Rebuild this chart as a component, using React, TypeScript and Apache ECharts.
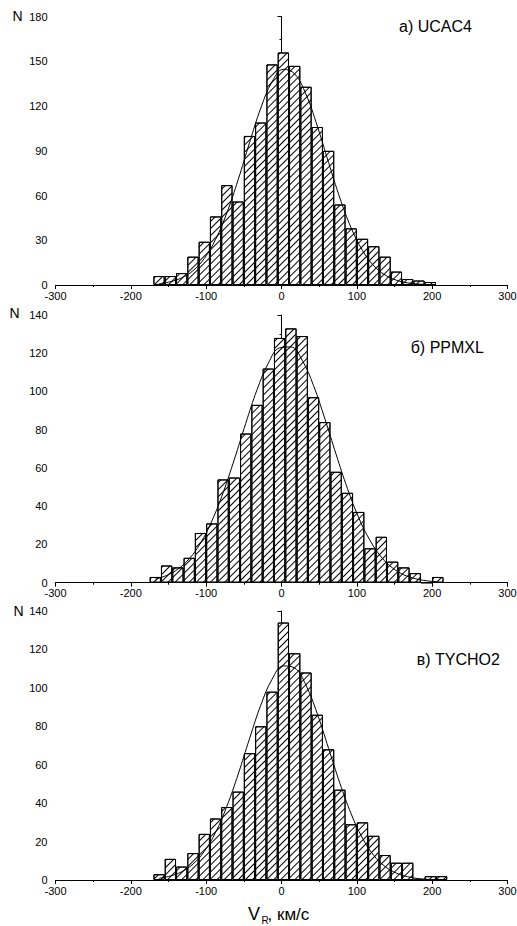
import React, { useEffect, useRef } from "react";
import * as echarts from "echarts";

// Bin centres (km/s), counts and fitted curve values
const ucac4Bins = [-162.5, -147.5, -132.5, -117.5, -102.5, -87.5, -72.5, -57.5, -42.5, -27.5, -12.5, 2.5, 17.5, 32.5, 47.5, 62.5, 77.5, 92.5, 107.5, 122.5, 137.5, 152.5, 167.5, 182.5, 197.5];
const ucac4Counts = [6, 6, 8, 19, 29, 46, 67, 56, 100, 109, 148, 156, 147, 133, 106, 90, 54, 38, 31, 26, 19, 9, 4, 3, 2];
const ucac4Fit = [0.9, 2.2, 4.8, 9.6, 17.8, 30.6, 48.4, 70.7, 95.4, 118.7, 136.4, 144.7, 141.6, 128, 106.7, 82.2, 58.4, 38.3, 23.2, 12.9, 6.7, 3.2, 1.4, 0.6, 0.2];

const ppmxlBins = [-167.5, -152.5, -137.5, -122.5, -107.5, -92.5, -77.5, -62.5, -47.5, -32.5, -17.5, -2.5, 12.5, 27.5, 42.5, 57.5, 72.5, 87.5, 102.5, 117.5, 132.5, 147.5, 162.5, 177.5, 192.5, 207.5];
const ppmxlCounts = [3, 9, 8, 13, 26, 31, 54, 55, 78, 93, 112, 128, 133, 129, 97, 84, 58, 47, 37, 18, 24, 11, 8, 5, 0, 3];
const ppmxlFit = [1.9, 3.8, 7.1, 12.5, 20.7, 32.2, 47.1, 64.6, 83.3, 100.9, 114.8, 122.8, 123.3, 116.3, 103.1, 85.8, 67.1, 49.3, 34.0, 22.1, 13.4, 7.7, 4.1, 2.1, 1.0, 0.4];

const tychoBins = [-162.5, -147.5, -132.5, -117.5, -102.5, -87.5, -72.5, -57.5, -42.5, -27.5, -12.5, 2.5, 17.5, 32.5, 47.5, 62.5, 77.5, 92.5, 107.5, 122.5, 137.5, 152.5, 167.5, 182.5, 197.5, 212.5];
const tychoCounts = [3, 11, 7, 14, 24, 32, 38, 46, 66, 80, 98, 134, 118, 108, 86, 68, 47, 29, 30, 23, 13, 9, 9, 0, 2, 2];
const tychoFit = [0.9, 2.1, 4.3, 8.3, 14.9, 24.8, 38.4, 55.1, 73.5, 91.0, 104.5, 111.4, 110.3, 101.4, 86.5, 68.5, 50.4, 34.4, 21.8, 12.8, 7.0, 3.6, 1.7, 0.7, 0.3, 0.1];

const panelTitles = ["а) UCAC4", "б) PPMXL", "в) TYCHO2"];
const yMax = [180, 140, 140];
const yStep = [30, 20, 20];
const xMin = -300;
const xMax = 300;
const xStep = 100;

const FONT = "'Liberation Sans', Arial, sans-serif";

export default function App() {
  const ref = useRef<HTMLDivElement>(null);
  useEffect(() => {
    if (!ref.current) return;
    const chart = echarts.init(ref.current, undefined, { renderer: "svg" });
    const grids = [
      { left: 55.5, right: 9.5, top: 16.7, height: 268.3, containLabel: false, outerBoundsMode: "none" },
      { left: 55.5, right: 9.5, top: 315, height: 267.7, containLabel: false, outerBoundsMode: "none" },
      { left: 55.5, right: 9.5, top: 611, height: 269, containLabel: false, outerBoundsMode: "none" },
    ];
    const bins = [ucac4Bins, ppmxlBins, tychoBins];
    const counts = [ucac4Counts, ppmxlCounts, tychoCounts];
    const fits = [ucac4Fit, ppmxlFit, tychoFit];

    const xAxes = grids.map((_, i) => ({
      type: "value",
      gridIndex: i,
      min: xMin,
      max: xMax,
      interval: xStep,
      splitLine: { show: false },
      axisLine: { show: true, onZero: false, lineStyle: { color: "#000", width: 1 } },
      axisTick: { show: true, length: 4, lineStyle: { color: "#000" } },
      minorTick: { show: true, splitNumber: 2, length: 2, lineStyle: { color: "#000" } },
      axisLabel: { color: "#000", fontSize: 11, fontFamily: FONT, margin: 5 },
    }));
    const yAxes = grids.map((_, i) => ({
      type: "value",
      gridIndex: i,
      min: 0,
      max: yMax[i],
      interval: yStep[i],
      splitLine: { show: false },
      axisLine: { show: true, lineStyle: { color: "#000", width: 1 } },
      axisTick: { show: true, length: 4, lineStyle: { color: "#000" } },
      minorTick: { show: true, splitNumber: 2, length: 2, lineStyle: { color: "#000" } },
      axisLabel: { color: "#000", fontSize: 11, fontFamily: FONT, margin: 8 },
    }));

    const series: any[] = [];
    for (let i = 0; i < 3; i++) {
      series.push({
        type: "bar",
        xAxisIndex: i,
        yAxisIndex: i,
        barWidth: "100%",
        data: bins[i].map((b, k) => [b, counts[i][k]]),
        itemStyle: {
          color: "#fff",
          borderColor: "#000",
          borderWidth: 1,
          decal: {
            symbol: "rect",
            symbolSize: 1,
            dashArrayX: [1, 0],
            dashArrayY: [1, 3.2],
            rotation: -Math.PI / 4,
            color: "#000",
          },
        },
        silent: true,
      });
      series.push({
        type: "line",
        xAxisIndex: i,
        yAxisIndex: i,
        data: bins[i].map((b, k) => [b, fits[i][k]]),
        smooth: 0.4,
        symbol: "none",
        lineStyle: { color: "#000", width: 1 },
        z: 5,
        silent: true,
      });
    }

    const titleY = [26.1, 347.7, 659.4];
    const titleX = [399, 410.7, 416.7];
    const nX = [12.5, 9.5, 13.5];
    const nY = [15.5, 312.8, 611.2];
    const graphic: any[] = [];
    for (let i = 0; i < 3; i++) {
      graphic.push({
        type: "text",
        x: titleX[i],
        y: titleY[i],
        style: { text: panelTitles[i], fill: "#000", font: `16px ${FONT}`, verticalAlign: "middle" },
      });
      graphic.push({
        type: "text",
        x: nX[i],
        y: nY[i],
        style: { text: "N", fill: "#000", font: `14px ${FONT}`, verticalAlign: "middle" },
      });
    }
    graphic.push({ type: "text", x: 248, y: 913.7, style: { text: "V", fill: "#000", font: `18px ${FONT}`, verticalAlign: "middle" } });
    graphic.push({ type: "text", x: 261.5, y: 920.5, style: { text: "R", fill: "#000", font: `10px ${FONT}`, verticalAlign: "middle" } });
    graphic.push({ type: "text", x: 267.5, y: 914, style: { text: ", км/с", fill: "#000", font: `17px ${FONT}`, verticalAlign: "middle" } });

    chart.setOption({
      animation: false,
      backgroundColor: "#fff",
      grid: grids,
      xAxis: xAxes,
      yAxis: yAxes,
      series,
      graphic,
    });
    return () => chart.dispose();
  }, []);
  return (
    <div
      ref={ref}
      style={{ position: "absolute", left: 0, top: 0, width: 517, height: 926 }}
    />
  );
}
